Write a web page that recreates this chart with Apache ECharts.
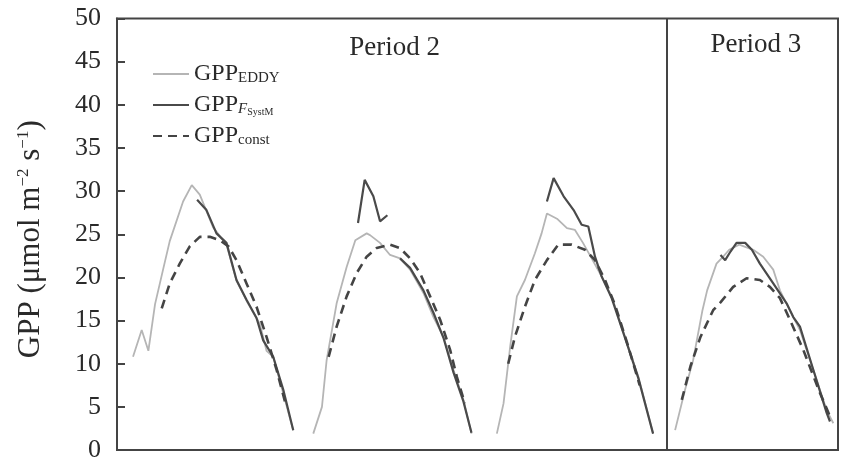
<!DOCTYPE html>
<html>
<head>
<meta charset="utf-8">
<script src="https://cdn.jsdelivr.net/npm/echarts@6/dist/echarts.min.js"></script>
<style>
  html, body { margin: 0; padding: 0; background: #fff; }
  #chart { width: 842px; height: 465px; }
</style>
</head>
<body>
<div id="chart"></div>
<script>
// Time axis: half-hourly daytime steps, nights removed (t), GPP in µmol m-2 s-1
const eddyDay1 = [[2.4,10.8],[3.7,13.9],[4.7,11.5],[5.7,16.9],[6.9,20.9],[7.9,24.2],[9.9,28.8],[11.2,30.7],[12.4,29.6],[14.4,25.8],[16.4,23.8],[17.9,19.6],[19.4,17.3],[21.4,14.6],[22.4,11.5],[23.4,10.8],[26.4,2.3]];
const eddyDay2 = [[29.4,1.9],[30.7,5.0],[31.4,10.4],[32.9,17.0],[34.4,21.2],[35.7,24.3],[37.4,25.1],[37.9,24.9],[39.4,24.0],[40.9,22.6],[42.4,22.2],[43.9,20.9],[45.9,18.2],[47.4,15.4],[48.9,13.1],[50.4,9.3],[51.9,5.8],[53.1,1.9]];
const eddyDay3 = [[56.9,1.9],[57.9,5.4],[58.9,12.0],[59.9,17.8],[61.1,19.7],[62.6,22.8],[63.6,25.1],[64.4,27.4],[65.9,26.8],[67.4,25.7],[68.6,25.5],[69.8,24.0],[71.1,22.2],[72.6,20.1],[74.1,17.8],[76.1,13.1],[78.1,8.5],[80.3,1.9]];
const eddyDay4 = [[83.6,2.3],[85.1,7.0],[86.3,10.4],[87.7,16.2],[88.4,18.5],[89.8,21.6],[90.8,22.4],[91.7,23.2],[93.2,23.8],[95.3,23.2],[96.8,22.4],[98.3,20.9],[99.3,18.5],[101.3,15.4],[102.3,13.9],[104.3,9.3],[106.3,4.6],[107.3,3.1]];

const fsysDay1 = [[12.0,29.0],[13.4,27.8],[14.9,25.1],[16.4,24.0],[17.9,19.7],[19.4,17.4],[20.9,15.3],[21.9,12.7],[23.4,10.8],[24.9,7.0],[26.4,2.3]];
const fsysDay2a = [[36.1,26.3],[37.1,31.3],[38.4,29.4],[39.4,26.5],[40.5,27.2]];
const fsysDay2b = [[42.4,22.2],[43.9,21.1],[45.9,18.5],[47.4,15.9],[48.9,13.0],[50.4,9.0],[51.9,5.6],[53.1,2.0]];
const fsysDay3 = [[64.4,28.8],[65.4,31.5],[66.9,29.4],[68.4,27.8],[69.6,26.1],[70.6,25.9],[71.6,22.4],[72.6,20.1],[74.1,17.6],[76.1,13.0],[78.1,8.3],[80.3,1.9]];
const fsysDay4 = [[90.4,22.6],[91.1,22.0],[91.9,23.0],[92.8,24.0],[94.1,24.0],[95.1,23.2],[96.3,21.6],[98.3,19.3],[100.3,17.0],[101.3,15.4],[102.3,14.3],[104.3,9.3],[106.3,4.3],[106.8,3.3]];

const constDay1 = [[6.7,16.4],[7.9,19.3],[9.4,21.6],[10.9,23.6],[12.4,24.7],[13.9,24.7],[15.4,24.3],[16.7,23.6],[17.9,22.0],[19.4,19.3],[20.9,16.6],[22.4,13.1],[23.9,9.3],[25.3,5.2]];
const constDay2 = [[31.7,10.8],[32.9,14.3],[34.4,17.8],[35.9,20.5],[37.4,22.4],[38.9,23.4],[40.9,23.8],[42.4,23.4],[43.9,22.2],[45.4,20.5],[46.9,17.8],[48.4,15.1],[49.9,11.6],[50.9,8.5],[52.1,5.4]];
const constDay3 = [[58.6,10.0],[59.6,13.1],[61.1,16.6],[62.6,19.7],[64.4,22.0],[66.1,23.8],[68.1,23.8],[70.1,23.2],[71.6,22.0],[73.1,19.7],[74.6,16.8],[76.5,12.2],[78.3,7.5]];
const constDay4 = [[84.6,5.8],[85.9,9.7],[87.4,13.1],[89.3,16.2],[90.4,17.1],[92.3,18.9],[94.3,19.9],[96.3,19.7],[97.8,18.9],[99.3,17.6],[100.8,15.1],[102.8,11.6],[105.3,6.6],[106.8,3.9]];

const periodBoundary = 82.4;
const periodLabels = [
  { text: 'Period 2', t: 41.6, v: 46.6 },
  { text: 'Period 3', t: 95.7, v: 46.9 }
];
const yTicks = { min: 0, max: 50, step: 5 };

// join daytime segments, breaking the line across each night
function joinSegments(segs) {
  const out = [];
  segs.forEach((s, i) => {
    if (i > 0) {
      const prev = segs[i - 1];
      out.push([(prev[prev.length - 1][0] + s[0][0]) / 2, '-']);
    }
    s.forEach(p => out.push(p));
  });
  return out;
}

const serif = '"Liberation Serif", "DejaVu Serif", serif';
const ink = '#2a2a2a';

const chart = echarts.init(document.getElementById('chart'), null, { renderer: 'canvas' });
chart.setOption({
  animation: false,
  backgroundColor: '#fff',
  grid: {
    left: 117, right: 4, top: 18.5, bottom: 15,
    show: true, borderColor: '#444', borderWidth: 2, backgroundColor: 'transparent'
  },
  legend: {
    orient: 'vertical',
    left: 152, top: 62, padding: 0,
    itemWidth: 36, itemHeight: 14, itemGap: 7,
    itemStyle: { opacity: 0 },
    textStyle: {
      fontFamily: serif, color: ink,
      rich: {
        a: { fontFamily: serif, fontSize: 24, color: ink, lineHeight: 24 },
        s: { fontFamily: serif, fontSize: 15, color: ink, verticalAlign: 'bottom', padding: [9, 0, 0, 0] },
        f: { fontFamily: serif, fontSize: 15, fontStyle: 'italic', color: ink, verticalAlign: 'bottom', padding: [9, 0, 0, 0] },
        ss: { fontFamily: serif, fontSize: 10, color: ink, verticalAlign: 'bottom', padding: [14, 0, 0, 0] }
      }
    },
    formatter: function (name) {
      if (name === 'GPP_EDDY') return '{a|GPP}{s|EDDY}';
      if (name === 'GPP_FSystM') return '{a|GPP}{f|F}{ss|SystM}';
      return '{a|GPP}{s|const}';
    },
    data: ['GPP_EDDY', 'GPP_FSystM', 'GPP_const']
  },
  xAxis: {
    type: 'value', min: 0, max: 108,
    axisLine: { show: true, lineStyle: { color: '#444', width: 2 } },
    axisTick: { show: false }, axisLabel: { show: false }, splitLine: { show: false }
  },
  yAxis: {
    type: 'value', min: yTicks.min, max: yTicks.max, interval: yTicks.step,
    name: '{a|GPP (μmol m}{p|−2}{a| s}{p|−1}{a|)}',
    nameLocation: 'middle', nameGap: 70, nameRotate: 90,
    nameTextStyle: {
      padding: [0, 10, 0, 0],
      rich: {
        a: { fontFamily: serif, fontSize: 31, color: ink, lineHeight: 32 },
        p: { fontFamily: serif, fontSize: 17, color: ink, verticalAlign: 'top', padding: [0, 0, 12, 0] }
      }
    },
    axisLine: { show: true, lineStyle: { color: '#444', width: 2 } },
    axisTick: { show: true, inside: true, length: 8, lineStyle: { color: '#444', width: 2 } },
    axisLabel: { fontFamily: serif, fontSize: 26, color: ink, margin: 16 },
    splitLine: { show: false }
  },
  series: [
    {
      name: 'GPP_EDDY', type: 'line', showSymbol: false, symbol: 'none', connectNulls: false,
      lineStyle: { color: '#b5b5b5', width: 1.8 }, itemStyle: { color: '#b5b5b5' },
      data: joinSegments([eddyDay1, eddyDay2, eddyDay3, eddyDay4]),
      markLine: {
        silent: true, symbol: 'none', label: { show: false },
        lineStyle: { color: '#444', width: 2, type: 'solid' },
        data: [{ xAxis: periodBoundary }]
      },
      markPoint: {
        symbol: 'circle', symbolSize: 0, silent: true,
        label: { show: true, fontFamily: serif, fontSize: 27, color: ink, formatter: p => p.name },
        data: periodLabels.map(p => ({ name: p.text, coord: [p.t, p.v] }))
      },
      z: 2
    },
    {
      name: 'GPP_FSystM', type: 'line', showSymbol: false, symbol: 'none', connectNulls: false,
      lineStyle: { color: '#4a4a4a', width: 2.2 }, itemStyle: { color: '#4a4a4a' },
      data: joinSegments([fsysDay1, fsysDay2a, fsysDay2b, fsysDay3, fsysDay4]),
      z: 3
    },
    {
      name: 'GPP_const', type: 'line', showSymbol: false, symbol: 'none', connectNulls: false,
      lineStyle: { color: '#444', width: 2.6, type: [9, 6] }, itemStyle: { color: '#444' },
      data: joinSegments([constDay1, constDay2, constDay3, constDay4]),
      z: 4
    }
  ]
});
</script>
</body>
</html>
